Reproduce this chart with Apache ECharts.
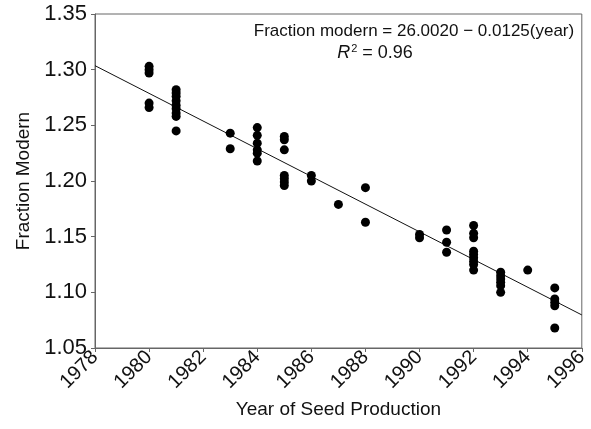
<!DOCTYPE html>
<html>
<head>
<meta charset="utf-8">
<script src="https://cdn.jsdelivr.net/npm/echarts@6/dist/echarts.min.js"></script>
<style>
  html, body { margin: 0; padding: 0; background: #fff; }
  #chart { width: 591px; height: 429px; }
</style>
</head>
<body>
<div id="chart"></div>
<script>
// measured points: [year, fraction modern]
var years = [
  1980, 1980, 1980, 1980, 1980,
  1981, 1981, 1981, 1981, 1981, 1981, 1981, 1981, 1981,
  1983, 1983,
  1984, 1984, 1984, 1984, 1984, 1984,
  1985, 1985, 1985, 1985, 1985, 1985, 1985,
  1986, 1986,
  1987,
  1988, 1988,
  1990, 1990,
  1991, 1991, 1991,
  1992, 1992, 1992, 1992, 1992, 1992, 1992, 1992, 1992,
  1993, 1993, 1993, 1993, 1993, 1993,
  1994,
  1995, 1995, 1995, 1995, 1995
];
var fractions = [
  1.303, 1.300, 1.297, 1.270, 1.266,
  1.282, 1.279, 1.276, 1.272, 1.268, 1.265, 1.261, 1.258, 1.245,
  1.243, 1.229,
  1.248, 1.241, 1.234, 1.228, 1.225, 1.218,
  1.240, 1.237, 1.228, 1.205, 1.202, 1.199, 1.196,
  1.205, 1.200,
  1.179,
  1.194, 1.163,
  1.152, 1.149,
  1.156, 1.145, 1.136,
  1.160, 1.153, 1.149, 1.137, 1.134, 1.131, 1.128, 1.125, 1.120,
  1.118, 1.115, 1.112, 1.109, 1.106, 1.100,
  1.120,
  1.104, 1.094, 1.091, 1.088, 1.068
];
// fitted line end points as drawn
var fitYears = [1978, 1996];
var fitValues = [1.3036, 1.0797];

var points = years.map(function (y, i) { return [y, fractions[i]]; });
var fitLine = fitYears.map(function (y, i) { return [y, fitValues[i]]; });

var chart = echarts.init(document.getElementById('chart'));
var font = 'Liberation Sans, Arial, sans-serif';

var option = {
  backgroundColor: '#fff',
  animation: false,
  grid: {
    left: 95,
    right: 9,
    top: 14,
    bottom: 81,
    show: true,
    borderColor: '#666',
    borderWidth: 1
  },
  xAxis: {
    type: 'value',
    min: 1978,
    max: 1996,
    interval: 2,
    name: 'Year of Seed Production',
    nameLocation: 'middle',
    nameGap: 52,
    nameTextStyle: { fontFamily: font, fontSize: 19, color: '#111' },
    axisLine: { show: true, lineStyle: { color: '#666' } },
    axisTick: { show: true, length: 4, lineStyle: { color: '#666' } },
    axisLabel: {
      rotate: 45,
      fontFamily: font,
      fontSize: 20,
      color: '#111',
      margin: 6,
      formatter: function (v) { return String(v); }
    },
    splitLine: { show: false }
  },
  yAxis: {
    type: 'value',
    min: 1.05,
    max: 1.35,
    interval: 0.05,
    name: 'Fraction Modern',
    nameLocation: 'middle',
    nameGap: 59,
    nameTextStyle: { fontFamily: font, fontSize: 19, color: '#111' },
    axisLine: { show: true, lineStyle: { color: '#666' } },
    axisTick: { show: true, length: 4, lineStyle: { color: '#666' } },
    axisLabel: {
      fontFamily: font,
      fontSize: 22,
      color: '#111',
      margin: 8,
      formatter: function (v) { return v.toFixed(2); }
    },
    splitLine: { show: false }
  },
  graphic: [
    {
      type: 'text',
      x: 414,
      y: 31,
      style: {
        text: 'Fraction modern = 26.0020 \u2212 0.0125(year)',
        font: '17px ' + font,
        fill: '#111',
        textAlign: 'center',
        textVerticalAlign: 'middle'
      }
    },
    {
      type: 'text',
      x: 375,
      y: 53,
      style: {
        text: '{i|R}{s|2}{n| = 0.96}',
        fill: '#111',
        textAlign: 'center',
        textVerticalAlign: 'middle',
        rich: {
          i: { fontFamily: font, fontSize: 18, fontStyle: 'italic', color: '#111' },
          s: { fontFamily: font, fontSize: 11, color: '#111', padding: [0, 0, 9, 1] },
          n: { fontFamily: font, fontSize: 18, color: '#111' }
        }
      }
    }
  ],
  series: [
    {
      type: 'line',
      data: fitLine,
      symbol: 'none',
      lineStyle: { color: '#111', width: 1 },
      z: 1
    },
    {
      type: 'scatter',
      data: points,
      symbol: 'circle',
      symbolSize: 9,
      itemStyle: { color: '#000', opacity: 1 },
      z: 2
    }
  ]
};

chart.setOption(option);
</script>
</body>
</html>
